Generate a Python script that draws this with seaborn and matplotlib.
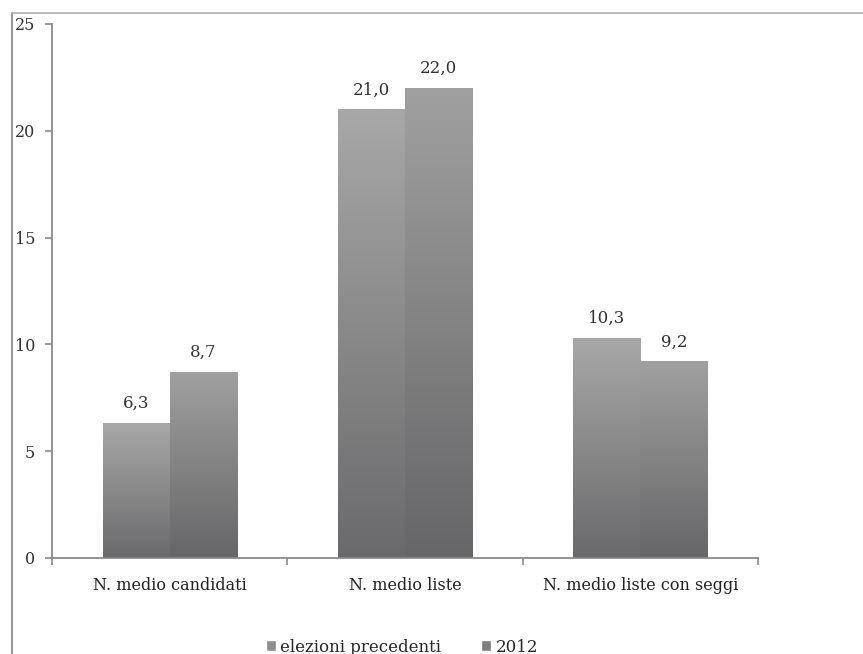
import numpy as np
import pandas as pd
import matplotlib
matplotlib.use("Agg")
import matplotlib.pyplot as plt
import seaborn as sns
from matplotlib.lines import Line2D
from matplotlib.patches import Patch
from matplotlib.colors import LinearSegmentedColormap

# dati
categorie = ["N. medio candidati", "N. medio liste", "N. medio liste con seggi"]
serie = ["elezioni precedenti", "2012"]
precedenti = [6.3, 21.0, 10.3]
anno_2012 = [8.7, 22.0, 9.2]

df = pd.DataFrame({
    "categoria": categorie * 2,
    "serie": [serie[0]] * 3 + [serie[1]] * 3,
    "valore": precedenti + anno_2012,
})

sns.set_theme(style="white")
plt.rcParams["font.family"] = ["DejaVu Serif"]

fig = plt.figure(figsize=(8.63, 6.54), dpi=100)
ax = fig.add_axes([52 / 863, 96 / 654, 706 / 863, 534 / 654])

sns.barplot(data=df, x="categoria", y="valore", hue="serie", order=categorie,
            hue_order=serie, palette=["#8e8e8e", "#858585"], width=0.57,
            gap=0, legend=False, ax=ax, linewidth=0)

# gradiente verticale dentro ogni barra
grad_cmaps = [
    LinearSegmentedColormap.from_list("g1", ["#6a6a6c", "#a8a8a8"]),
    LinearSegmentedColormap.from_list("g2", ["#666668", "#a0a0a0"]),
]
bars = list(ax.patches)
grad = np.linspace(0, 1, 256).reshape(-1, 1)
for i, bar in enumerate(bars):
    x0, y0 = bar.get_x(), bar.get_y()
    w, h = bar.get_width(), bar.get_height()
    im = ax.imshow(grad, extent=[x0, x0 + w, y0, y0 + h], origin="lower",
                   cmap=grad_cmaps[i // 3], aspect="auto", zorder=bar.get_zorder() + 0.1)
    im.set_clip_path(bar)

ax.set_xlim(-0.5, 2.5)
ax.set_ylim(0, 25)
ax.set_yticks([0, 5, 10, 15, 20, 25])
ax.set_xlabel("")
ax.set_ylabel("")

for c in ax.containers:
    ax.bar_label(c, labels=[f"{v:.1f}".replace(".", ",") for v in c.datavalues],
                 padding=8, fontsize=12, color="#333333")

for s in ["top", "right"]:
    ax.spines[s].set_visible(False)
for s in ["left", "bottom"]:
    ax.spines[s].set_color("#8a8a8a")
    ax.spines[s].set_linewidth(1.3)

ax.tick_params(axis="y", left=True, length=5, width=1.2, color="#8a8a8a",
               labelsize=11.5, labelcolor="#333333", pad=7)
ax.set_xticks([0, 1, 2])
ax.set_xticklabels(categorie)
ax.tick_params(axis="x", which="major", length=0, pad=14, labelsize=11.5, labelcolor="#222222")
ax.set_xticks([-0.5, 0.5, 1.5, 2.5], minor=True)
ax.tick_params(axis="x", which="minor", bottom=True, length=5, width=1.2, color="#8a8a8a")

# cornice della scansione
fig.add_artist(Line2D([12 / 863, 12 / 863], [0, 1 - 13 / 654], transform=fig.transFigure,
                      color="#9a9a9a", lw=1.5))
fig.add_artist(Line2D([12 / 863, 1], [1 - 13 / 654, 1 - 13 / 654], transform=fig.transFigure,
                      color="#b0b0b0", lw=1.2))

handles = [Patch(facecolor="#8e8e8e"), Patch(facecolor="#7e7e7e")]
fig.legend(handles, serie, loc="center", bbox_to_anchor=(402 / 863, 1 - 647 / 654),
           ncol=2, frameon=False, fontsize=12, handlelength=0.6, handleheight=0.6,
           handletextpad=0.25, columnspacing=2.4, borderpad=0)

fig.savefig("out.png", dpi=100, facecolor="white")
